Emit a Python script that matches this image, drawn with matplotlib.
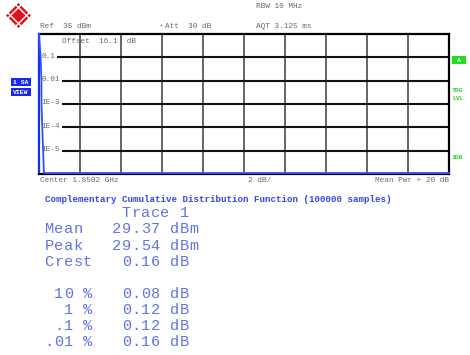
import numpy as np
import matplotlib
matplotlib.use("Agg")
from matplotlib import pyplot as plt
from matplotlib.patches import Polygon, Rectangle

# CCDF trace (dB above mean power vs probability)
trace_db = [0.0, 0.08, 0.12, 0.12, 0.16, 0.20, 0.24, 20.0]
trace_prob = [1.0, 0.1, 0.01, 1e-3, 1e-4, 1e-5, 1.1e-6, 1.1e-6]

ylabels = ["0.1", "0.01", "1E-3", "1E-4", "1E-5"]
ylevels = [0.1, 0.01, 1e-3, 1e-4, 1e-5]

header = [("Ref  35 dBm", 40, 27), ("Att  30 dB", 165, 27),
          ("RBW 10 MHz", 256, 7), ("AQT 3.125 ms", 256, 27)]
footer = [("Center 1.8502 GHz", 40, 180, "left"), ("2 dB/", 260, 180, "center"),
          ("Mean Pwr + 20 dB", 449, 180, "right")]

title = "Complementary Cumulative Distribution Function (100000 samples)"
result_lines = [("        Trace 1", 212.5),
                ("Mean   29.37 dBm", 228.5),
                ("Peak   29.54 dBm", 245),
                ("Crest   0.16 dB", 261.5),
                (" 10 %   0.08 dB", 293),
                ("  1 %   0.12 dB", 309.5),
                (" .1 %   0.12 dB", 326),
                (".01 %   0.16 dB", 342)]

W, H = 470, 355
MONO = "Liberation Mono"
GRAY = "#6a6a6a"
BLUE_TXT = "#6072ec"
COL_W = 9.65  # character pitch of the result table, px


def fx(x):
    return x / W


def fy(y):
    return 1 - y / H


fig = plt.figure(figsize=(W / 100, H / 100), dpi=100)
fig.patch.set_facecolor("white")

ax = fig.add_axes([fx(39), fy(174), 410 / W, 140 / H])
ax.set_yscale("log")
ax.set_xlim(0, 20)
ax.set_ylim(1e-6, 1)
ax.set_xticks(np.arange(0, 21, 2))
ax.set_yticks([1e-5, 1e-4, 1e-3, 1e-2, 1e-1])
ax.minorticks_off()
ax.tick_params(left=False, bottom=False, labelleft=False, labelbottom=False)
ax.grid(False)
for xv in np.arange(2, 20, 2):
    ax.axvline(xv, color="#3a3a3a", lw=1.1, zorder=1)
for yv in ylevels:
    ax.axhline(yv, color="#111111", lw=1.5, zorder=1)
for s in ax.spines.values():
    s.set_color("black")
    s.set_linewidth(1.6)
ax.spines["left"].set_color("#1030ff")

ax.plot(trace_db, trace_prob, color="#3050ff", lw=1.3, zorder=5, clip_on=False)

for lab, yv in zip(ylabels, ylevels):
    ax.text(0.12, yv * 1.12, lab, fontsize=5.6, family=MONO, color=GRAY,
            ha="left", va="center", zorder=4,
            bbox=dict(facecolor="white", edgecolor="none", pad=1.4))
ax.text(1.1, 0.5, "Offset  16.1  dB", fontsize=5.6, family=MONO, color=GRAY,
        ha="left", va="center", zorder=4)

for txt, x, y in header:
    fig.text(fx(x), fy(y), txt, fontsize=5.6, family=MONO, color=GRAY,
             ha="left", va="center")
fig.text(fx(161), fy(27), "*", fontsize=6, family=MONO, color="#22cc22",
         ha="center", va="center")
for txt, x, y, ha in footer:
    fig.text(fx(x), fy(y), txt, fontsize=5.6, family=MONO, color=GRAY,
             ha=ha, va="center")

# R&S logo
cx, cy, r = 18.5, 15.5, 12.5
fig.patches.append(Polygon([(fx(cx - r), fy(cy)), (fx(cx), fy(cy - r)),
                            (fx(cx + r), fy(cy)), (fx(cx), fy(cy + r))],
                           closed=True, transform=fig.transFigure,
                           facecolor="#d8141c", edgecolor="none"))
for d in (-4, 4):
    fig.add_artist(plt.Line2D([fx(cx - 7 + d), fx(cx + 7 + d)],
                              [fy(cy - 7 - d), fy(cy + 7 - d)],
                              transform=fig.transFigure, color="white", lw=1.0))
    fig.add_artist(plt.Line2D([fx(cx - 7 + d), fx(cx + 7 + d)],
                              [fy(cy + 7 + d), fy(cy - 7 + d)],
                              transform=fig.transFigure, color="white", lw=1.0))

# side soft keys
for txt, y0 in (("1 SA", 78), ("VIEW", 88)):
    fig.patches.append(Rectangle((fx(11), fy(y0 + 8)), 20 / W, 8 / H,
                                 transform=fig.transFigure,
                                 facecolor="#1428f0", edgecolor="none"))
    fig.text(fx(21), fy(y0 + 4), txt, fontsize=4.6, family=MONO, weight="bold",
             color="white", ha="center", va="center")
fig.patches.append(Rectangle((fx(452), fy(64)), 14 / W, 8 / H,
                             transform=fig.transFigure,
                             facecolor="#22dd22", edgecolor="none"))
fig.text(fx(459), fy(60), "A", fontsize=4.6, family=MONO, weight="bold",
         color="white", ha="center", va="center")
for txt, y in (("TRG", 90), ("LVL", 98), ("3DB", 157)):
    fig.text(fx(452), fy(y), txt, fontsize=4.6, family=MONO, weight="bold",
             color="#33cc33", ha="left", va="center")

# result table: wide character pitch like the instrument's screen font
fig.text(fx(45), fy(199), title, fontsize=6.6, family=MONO, weight="bold",
         color="#3346ee", ha="left", va="center")
for txt, y in result_lines:
    for col, ch in enumerate(txt):
        if ch == " ":
            continue
        fig.text(fx(44 + col * COL_W + 0.5), fy(y + 4.5), ch, fontsize=11,
                 family=MONO, color=BLUE_TXT, ha="left", va="baseline")

fig.savefig("out.png", dpi=100, facecolor="white")
